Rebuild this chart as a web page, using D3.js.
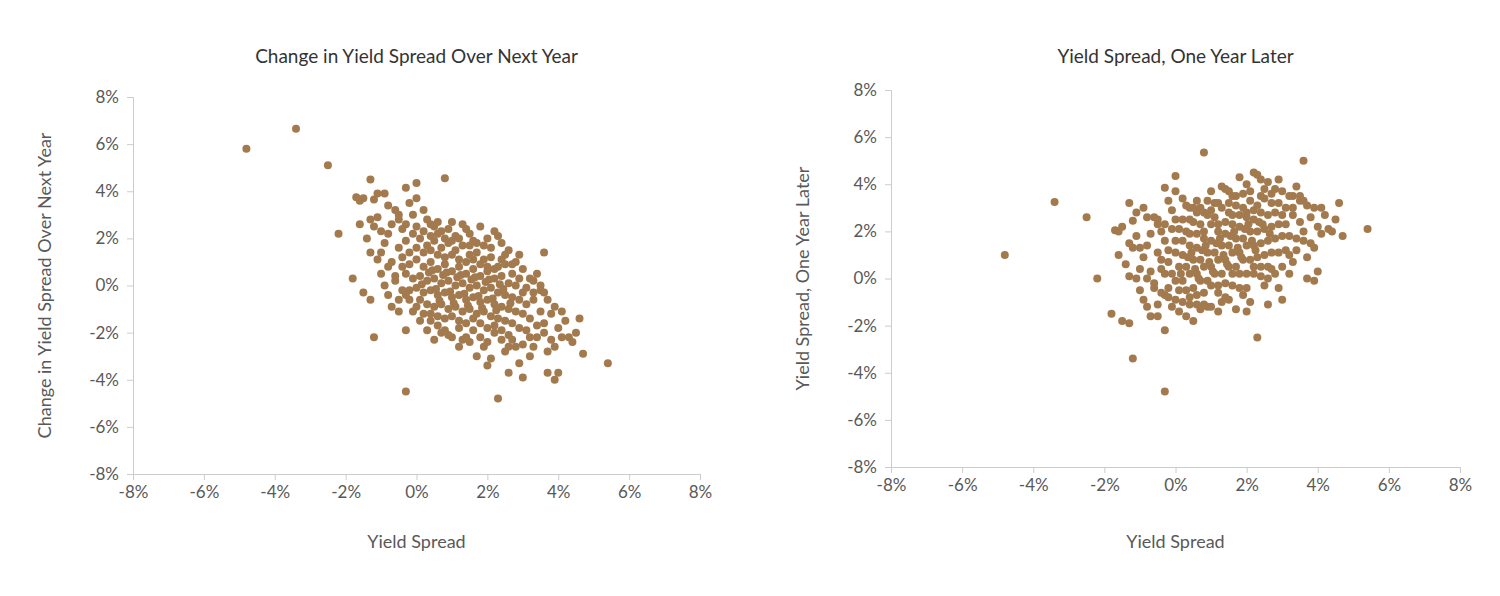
<!DOCTYPE html>
<html><head><meta charset="utf-8">
<script src="https://cdn.jsdelivr.net/npm/d3@7"></script>
<style>body{margin:0;background:#fff;font-family:Lato,"Open Sans",sans-serif;}</style>
</head><body><svg id="c" width="1500" height="596"></svg>
<script>
// [yield spread %, change over next year %]
const points = [
[-4.8,5.8],[-3.4,6.65],[-2.5,5.1],[-2.2,2.2],[-1.8,0.3],[-1.7,3.75],[-1.6,3.6],[-1.5,3.7],[-1.3,4.5],[-1.2,3.65],[-1.1,3.9],[-0.9,3.9],
[-0.3,4.15],[0.0,4.35],[0.8,4.55],[-1.2,-2.2],[-0.3,-4.5],[-0.3,-1.9],[2.3,-4.8],[5.4,-3.3],[4.7,-2.9],[4.6,-1.4],[4.0,-3.7],[3.9,-4.0],
[3.7,-3.7],[3.0,-3.9],[2.6,-3.7],[2.1,-3.1],[2.0,-3.4],[1.7,-3.0],[4.5,-2.0],[4.3,-2.2],[3.6,1.4],[3.5,-0.2],[3.4,0.5],[2.9,1.3],
[2.6,1.5],[2.2,2.3],[2.3,2.1],[1.3,2.6],[0.6,2.7],[-0.5,3.0],[-0.7,2.6],[-1.4,2.0],[-1.5,-0.3],[-1.3,-0.6],[-1.0,1.4],[-0.8,-0.4],
[-0.5,-1.1],[-0.9,0.0],[-1.6,2.6],[-1.3,2.8],[-1.2,2.5],[-1.0,2.3],[-0.8,2.2],[-0.6,3.2],[-0.4,2.4],[-0.2,3.5],[0.0,3.7],[-0.1,3.0],
[0.3,2.8],[0.5,2.5],[0.7,2.3],[0.9,2.4],[1.1,2.1],[1.4,2.4],[1.6,1.9],[1.9,1.7],[2.0,2.0],[2.4,1.8],[2.7,0.9],[3.0,0.7],
[3.2,0.3],[3.3,-0.6],[3.5,-1.1],[3.6,-1.6],[3.8,-2.3],[3.9,-2.6],[4.1,-2.2],[4.4,-2.4],[3.3,-2.6],[3.2,-3.0],[2.9,-3.3],[2.8,-2.6],
[2.5,-2.8],[2.4,-2.3],[2.2,-2.0],[1.9,-2.6],[1.6,-1.9],[1.3,-2.3],[1.2,-1.8],[0.9,-2.1],[0.6,-1.7],[0.4,-1.5],[0.2,-1.2],[0.0,-0.9],
[-0.2,-0.6],[-0.4,-0.2],[-0.6,0.4],[-0.7,1.0],[-0.5,1.6],[-0.3,1.9],[-0.1,2.2],[0.1,2.0],[0.3,1.7],[0.5,1.9],[0.7,1.6],[0.9,1.8],
[1.1,1.5],[1.3,1.7],[1.5,1.3],[1.7,1.4],[1.9,1.1],[2.1,1.2],[2.3,0.8],[2.5,0.9],[2.7,0.5],[2.9,0.3],[3.1,-0.1],[3.3,-0.3],
[-0.4,1.2],[-0.2,0.9],[0.0,1.1],[0.2,0.8],[0.4,1.0],[0.6,0.7],[0.8,0.9],[1.0,0.6],[1.2,0.8],[1.4,0.5],[1.6,0.7],[1.8,0.4],
[2.0,0.6],[2.2,0.3],[2.4,0.4],[2.6,0.1],[2.8,0.0],[3.0,-0.3],[-0.3,0.5],[-0.1,0.3],[0.1,0.4],[0.3,0.2],[0.5,0.3],[0.7,0.1],
[0.9,0.2],[1.1,0.0],[1.3,0.1],[1.5,-0.1],[1.7,0.0],[1.9,-0.2],[2.1,-0.1],[2.3,-0.3],[2.5,-0.4],[2.7,-0.5],[2.9,-0.6],[3.1,-0.8],
[-0.2,-0.2],[0.0,-0.1],[0.2,-0.3],[0.4,-0.2],[0.6,-0.4],[0.8,-0.3],[1.0,-0.5],[1.2,-0.4],[1.4,-0.6],[1.6,-0.5],[1.8,-0.7],[2.0,-0.6],
[2.2,-0.8],[2.4,-0.9],[2.6,-1.0],[2.8,-1.1],[3.0,-1.2],[3.2,-1.4],[0.1,-0.6],[0.3,-0.8],[0.5,-0.9],[0.7,-0.8],[0.9,-1.0],[1.1,-0.9],
[1.3,-1.1],[1.5,-1.0],[1.7,-1.2],[1.9,-1.1],[2.1,-1.3],[2.3,-1.4],[2.5,-1.5],[2.7,-1.6],[2.9,-1.8],[3.1,-1.9],[3.4,-1.7],[3.6,-2.0],
[0.4,-1.2],[0.6,-1.3],[0.8,-1.4],[1.0,-1.3],[1.2,-1.5],[1.4,-1.6],[1.6,-1.4],[1.8,-1.6],[2.0,-1.8],[2.2,-1.7],[2.4,-1.9],[2.6,-2.1],
[0.8,-1.9],[1.0,-2.2],[1.4,-2.2],[1.8,-2.2],[2.0,-2.4],[2.7,-2.3],[3.0,-2.5],[3.4,-2.2],[3.7,-2.8],[4.0,-1.8],[4.2,-1.5],[3.8,-1.2],
[3.7,-0.6],[3.9,-0.9],[4.1,-1.1],[3.5,0.0],[3.3,0.2],[3.6,-0.3],[0.2,1.4],[0.4,1.5],[0.6,1.3],[0.8,1.2],[1.0,1.3],[1.2,1.1],
[1.4,1.0],[1.6,1.1],[1.8,0.9],[2.0,0.8],[2.2,0.7],[2.4,1.1],[0.0,1.6],[-0.2,1.4],[-0.4,0.8],[-0.6,0.2],[-0.8,0.8],[-1.0,0.5],
[-0.7,-0.9],[-0.5,-0.6],[-0.3,-0.4],[-0.1,-1.1],[0.1,-1.5],[0.3,-1.9],[0.5,-2.3],[0.7,-2.0],[1.2,-2.6],[1.5,-2.4],[2.6,-2.6],[3.2,-2.2],
[0.0,2.5],[0.2,2.3],[0.4,2.1],[0.6,2.2],[0.8,2.0],[1.0,1.9],[1.2,2.0],[1.5,1.7],[1.7,1.8],[2.1,1.6],[2.5,1.3],[2.8,1.0],
[0.15,0.05],[0.35,0.55],[0.55,-0.15],[0.75,0.45],[0.95,-0.25],[1.15,0.35],[1.35,-0.35],[1.55,0.25],[1.75,-0.45],[1.95,0.15],[2.15,-0.55],[2.35,0.05],
[0.45,0.65],[0.65,-0.65],[0.85,0.55],[1.05,-0.75],[1.25,0.45],[1.45,-0.85],[1.65,0.35],[1.85,-0.95],[2.05,0.25],[2.25,-1.05],[2.45,-0.15],[2.65,-0.75],
[-1.1,1.1],[-1.3,1.4],[-0.9,1.8],[-1.1,2.9],[-0.8,3.4],[-0.5,2.8],[-0.3,2.6],[0.2,3.2],[0.4,2.6],[1.0,2.7],[1.5,2.2],[1.8,2.5]
];
const spread = points.map(p=>p[0]);
const change = points.map(p=>p[1]);
const spreadLater = points.map(p=>+(p[0]+p[1]).toFixed(2)); // spread one year later = spread + change
const ticks = [-8,-6,-4,-2,0,2,4,6,8];

const svg = d3.select("#c");
const col = "#a37a4e", txt = "#595959";
const charts = [
  {title:"Change in Yield Spread Over Next Year", ylab:"Change in Yield Spread Over Next Year", x0:133,x1:700,y0:97,y1:474, ys:change},
  {title:"Yield Spread, One Year Later", ylab:"Yield Spread, One Year Later", x0:891,x1:1460,y0:90,y1:467, ys:spreadLater}
];
charts.forEach(c=>{
  const x = d3.scaleLinear().domain([-8,8]).range([c.x0,c.x1]);
  const y = d3.scaleLinear().domain([-8,8]).range([c.y1,c.y0]);
  const fmt = d=>d+"%";
  const gx = svg.append("g").attr("transform",`translate(0,${c.y1})`).call(d3.axisBottom(x).tickValues(ticks).tickFormat(fmt).tickSize(6).tickPadding(6));
  const gy = svg.append("g").attr("transform",`translate(${c.x0},0)`).call(d3.axisLeft(y).tickValues(ticks).tickFormat(fmt).tickSize(6).tickPadding(8));
  [gx,gy].forEach(g=>{
    g.selectAll("path,line").attr("stroke","#cccccc");
    g.selectAll("text").attr("fill",txt).style("font-size","17px").style("font-family","Lato,sans-serif");
  });
  svg.append("text").attr("x",(c.x0+c.x1)/2).attr("y",63).attr("text-anchor","middle").attr("fill","#333").style("font-size","19px").text(c.title);
  svg.append("text").attr("x",(c.x0+c.x1)/2).attr("y",548).attr("text-anchor","middle").attr("fill",txt).style("font-size","18px").text("Yield Spread");
  svg.append("text").attr("transform",`translate(${c.x0-82},${(c.y0+c.y1)/2}) rotate(-90)`).attr("text-anchor","middle").attr("fill",txt).style("font-size","18px").text(c.ylab);
  svg.append("g").selectAll("circle").data(spread).join("circle")
    .attr("cx",d=>x(d)).attr("cy",(d,i)=>y(c.ys[i])).attr("r",4).attr("fill",col);
});
</script></body></html>
